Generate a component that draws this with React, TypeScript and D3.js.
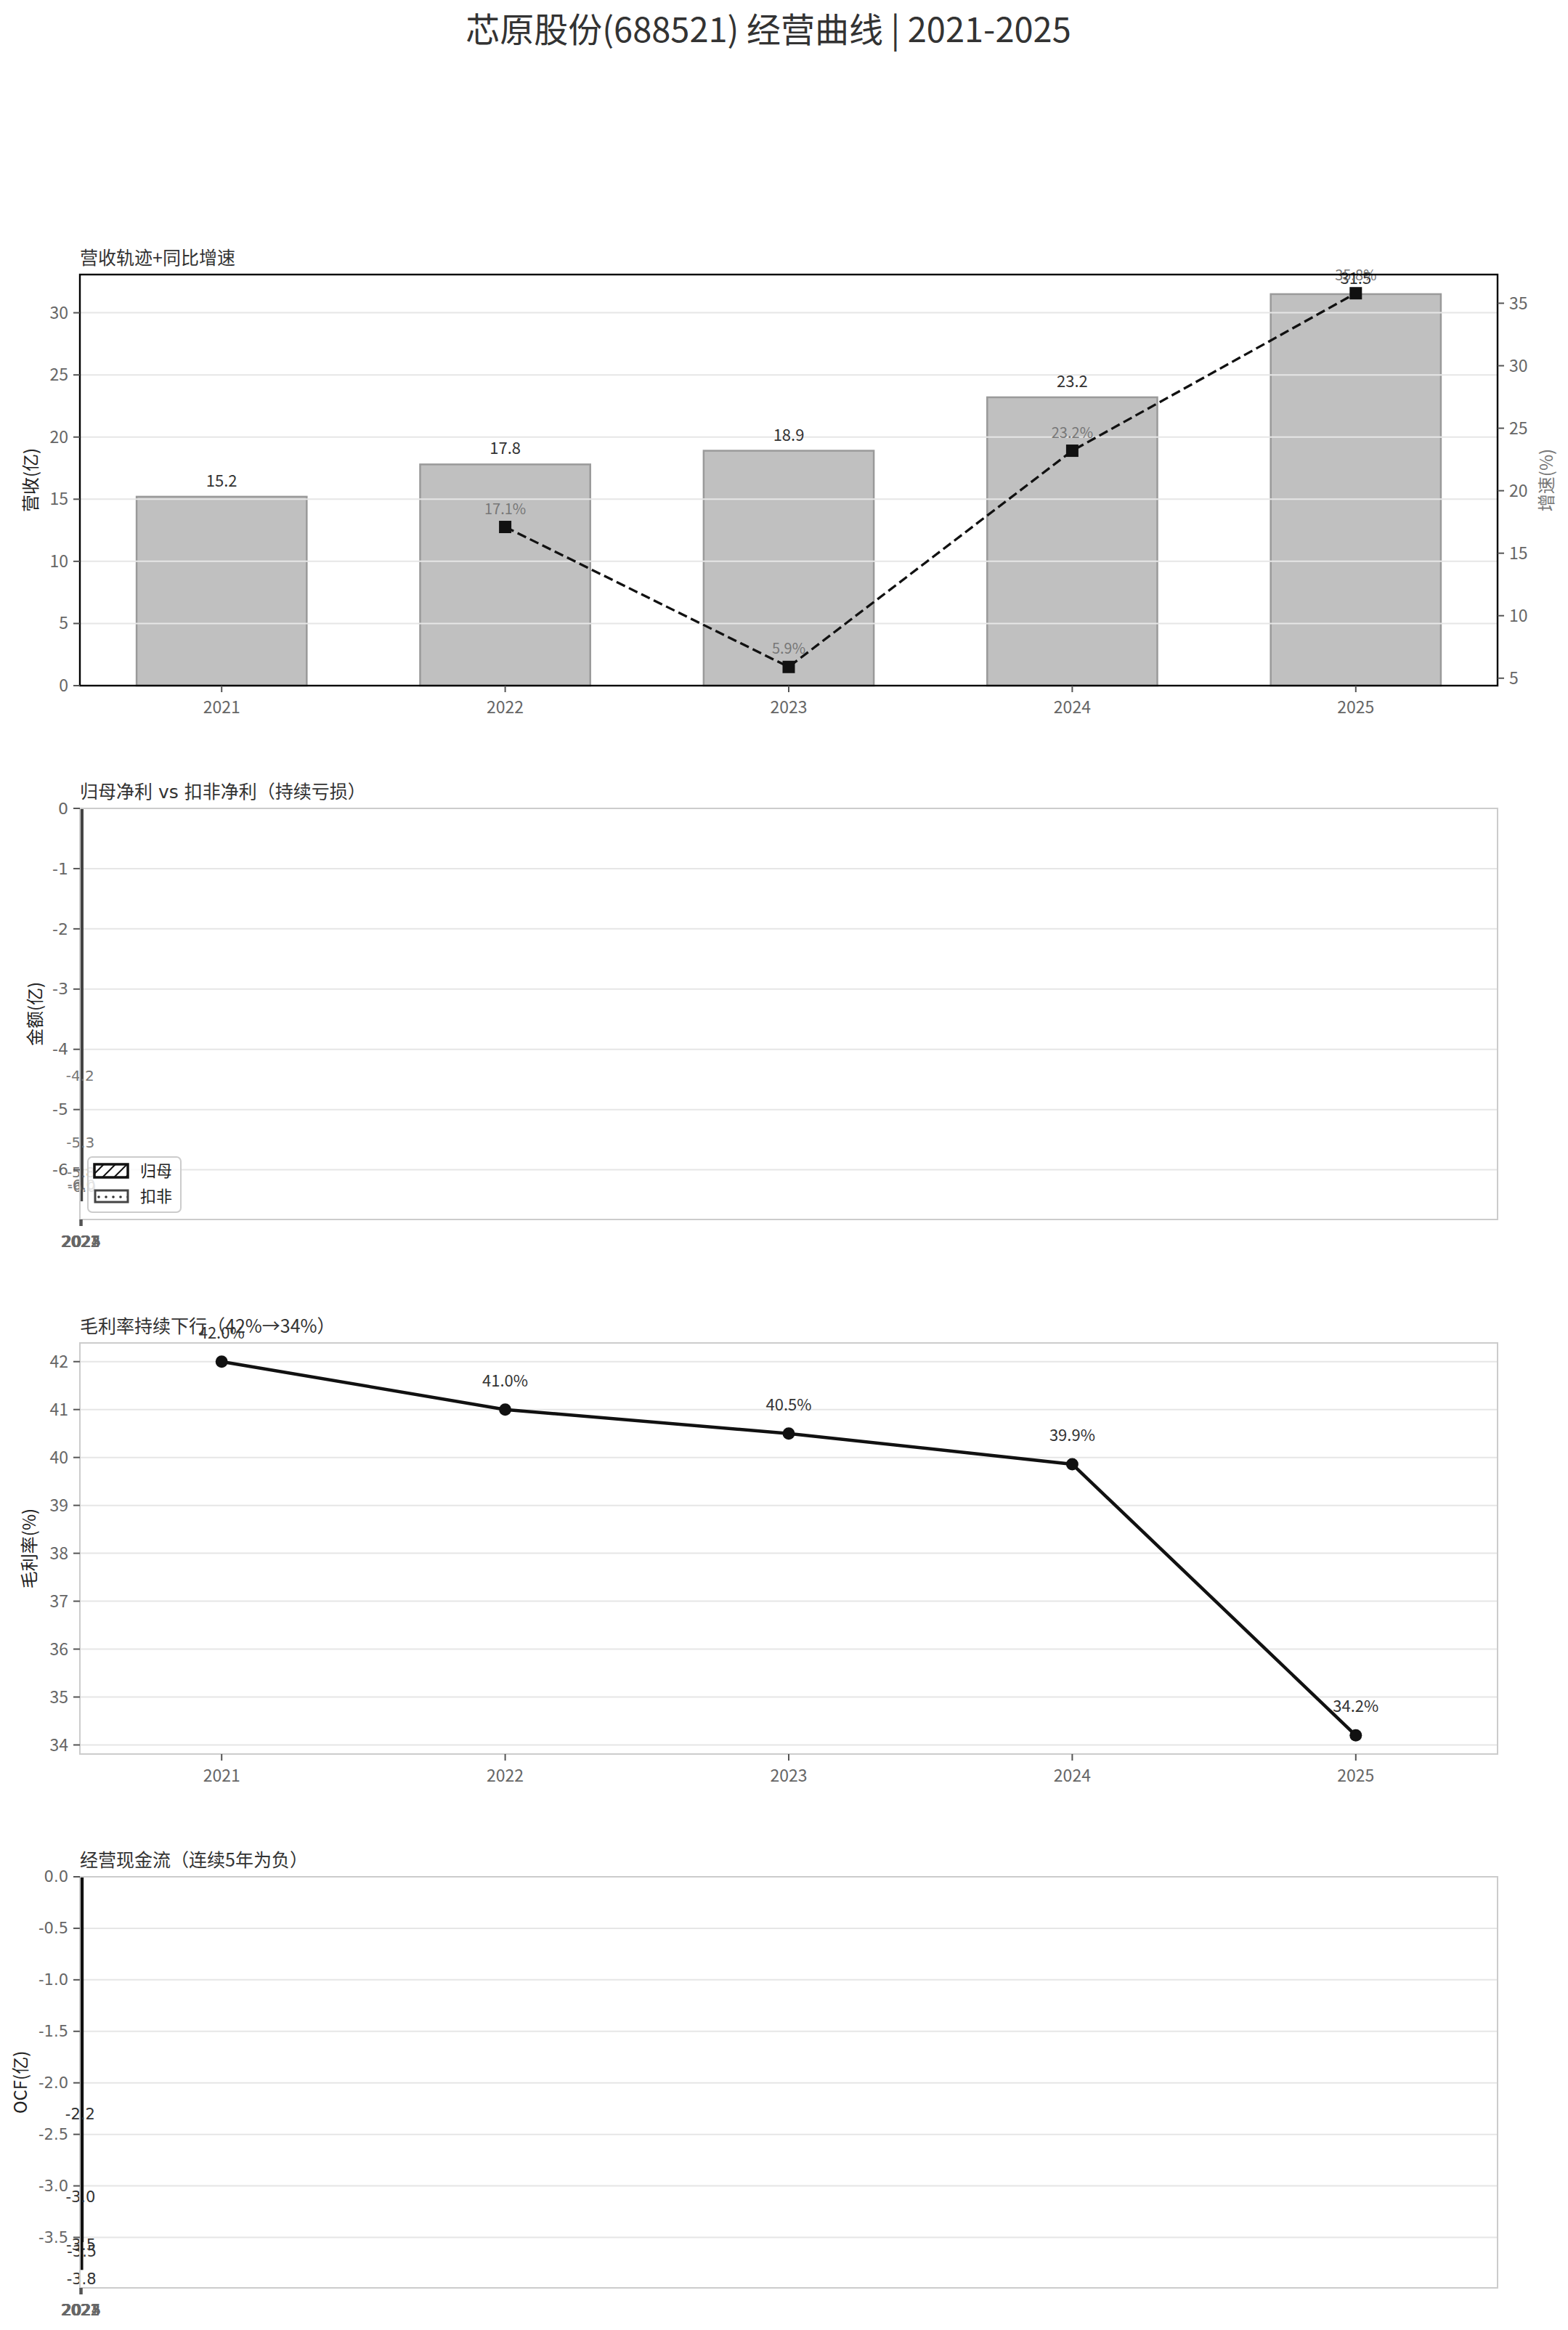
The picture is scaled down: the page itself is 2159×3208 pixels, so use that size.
import React from 'react';
import * as d3 from 'd3';

const YEARS = ['2021', '2022', '2023', '2024', '2025'];
const REVENUE = [15.2, 17.8, 18.9, 23.2, 31.5];
const GROWTH_YEARS = ['2022', '2023', '2024', '2025'];
const GROWTH = [17.1, 5.9, 23.2, 35.8];
const NET_PROFIT = [-4.2, -5.3, -5.8, -6.0, -6.04];
const DEDUCTED = [-4.6, -5.7, -6.2, -6.5, -6.3];
const GROSS_MARGIN = [42.0, 41.0, 40.5, 39.86, 34.2];
const OCF = [-2.2, -3.0, -3.47, -3.8, -3.53];

const REV_TICKS = [0, 5, 10, 15, 20, 25, 30];
const GROWTH_TICKS = [5, 10, 15, 20, 25, 30, 35];
const PROFIT_TICKS = [0, -1, -2, -3, -4, -5, -6];
const GM_TICKS = [34, 35, 36, 37, 38, 39, 40, 41, 42];
const OCF_TICKS = [0, -0.5, -1, -1.5, -2, -2.5, -3, -3.5];

const W = 2159;
const H = 3208;
const L = 110;
const R = 2062;
const PH = 566;
const TOPS = [378, 1113, 1849, 2584];

const CJK = '"Noto Sans CJK SC", "Noto Sans", sans-serif';
const DV = '"DejaVu Sans", "Noto Sans CJK SC", sans-serif';
const TICK_C = '#666';
const GRID_C = '#e6e6e6';

function YTicks({ scale, ticks, fmt, font, size, side = 'left', x }: any) {
  return (
    <g>
      {ticks.map((t: number) => (
        <g key={t}>
          <line
            x1={side === 'left' ? x - 9 : x}
            x2={side === 'left' ? x : x + 9}
            y1={scale(t)}
            y2={scale(t)}
            stroke="#555"
            strokeWidth={2}
          />
          <text
            x={side === 'left' ? x - 16 : x + 16}
            y={scale(t)}
            dy="0.35em"
            textAnchor={side === 'left' ? 'end' : 'start'}
            fontFamily={font}
            fontSize={size}
            fill={TICK_C}
          >
            {fmt(t)}
          </text>
        </g>
      ))}
    </g>
  );
}

function XTicks({ scale, positions, labels, bottom, font, size }: any) {
  return (
    <g>
      {positions.map((p: number, i: number) => (
        <g key={i}>
          <line x1={scale(p)} x2={scale(p)} y1={bottom} y2={bottom + 9} stroke="#555" strokeWidth={2} />
          <text
            x={scale(p)}
            y={bottom + 38}
            textAnchor="middle"
            fontFamily={font}
            fontSize={size}
            fill={TICK_C}
          >
            {labels[i]}
          </text>
        </g>
      ))}
    </g>
  );
}

function Grid({ scale, ticks }: any) {
  return (
    <g>
      {ticks.map((t: number) => (
        <line key={t} x1={L} x2={R} y1={scale(t)} y2={scale(t)} stroke={GRID_C} strokeWidth={2} />
      ))}
    </g>
  );
}

function Title({ top, text, font = CJK }: any) {
  return (
    <text x={L} y={top - 14} fontFamily={font} fontSize={25} fill="#333">
      {text}
    </text>
  );
}

function YLabel({ x, top, text, color = '#222', font = CJK }: any) {
  const cy = top + PH / 2;
  return (
    <text
      transform={`translate(${x},${cy}) rotate(-90)`}
      textAnchor="middle"
      dy="0.35em"
      fontFamily={font}
      fontSize={24}
      fill={color}
    >
      {text}
    </text>
  );
}

function RevenuePanel() {
  const top = TOPS[0];
  const bottom = top + PH;
  const idx = YEARS.map((_, i) => i);
  const x = d3.scaleLinear().domain([-0.5, 4.5]).range([L, R]);
  const y = d3.scaleLinear().domain([0, (d3.max(REVENUE) as number) * 1.05]).range([bottom, top]);
  const [gmin, gmax] = d3.extent(GROWTH) as [number, number];
  const gpad = (gmax - gmin) * 0.05;
  const yr = d3.scaleLinear().domain([gmin - gpad, gmax + gpad]).range([bottom, top]);
  const bw = 0.6;
  const gpts = GROWTH.map((v, i) => [x(YEARS.indexOf(GROWTH_YEARS[i])), yr(v)] as [number, number]);
  const line = d3.line();
  return (
    <g>
      <Title top={top} text="营收轨迹+同比增速" />
      {REVENUE.map((v, i) => (
        <rect
          key={i}
          x={x(i - bw / 2)}
          y={y(v)}
          width={x(bw) - x(0)}
          height={y(0) - y(v)}
          fill="#c0c0c0"
          stroke="#9a9a9a"
          strokeWidth={2.5}
        />
      ))}
      <Grid scale={y} ticks={REV_TICKS} />
      {REVENUE.map((v, i) => (
        <text
          key={i}
          x={x(i)}
          y={y(v) - 14}
          textAnchor="middle"
          fontFamily={CJK}
          fontSize={22}
          fill="#333"
        >
          {v.toFixed(1)}
        </text>
      ))}
      <path d={line(gpts) as string} fill="none" stroke="#111" strokeWidth={3.3} strokeDasharray="13 6" />
      {gpts.map((p, i) => (
        <rect key={i} x={p[0] - 8.5} y={p[1] - 8.5} width={17} height={17} fill="#111" />
      ))}
      {GROWTH.map((v, i) => (
        <text
          key={i}
          x={gpts[i][0]}
          y={gpts[i][1] - 18}
          textAnchor="middle"
          fontFamily={CJK}
          fontSize={20}
          fill="#777"
        >
          {v.toFixed(1)}%
        </text>
      ))}
      <rect x={L} y={top} width={R - L} height={PH} fill="none" stroke="#000" strokeWidth={2.4} />
      <YTicks scale={y} ticks={REV_TICKS} fmt={(t: number) => String(t)} font={CJK} size={23} x={L} />
      <YTicks scale={yr} ticks={GROWTH_TICKS} fmt={(t: number) => String(t)} font={CJK} size={23} x={R} side="right" />
      <XTicks scale={x} positions={idx} labels={YEARS} bottom={bottom} font={CJK} size={23} />
      <YLabel x={43} top={top} text="营收(亿)" />
      <YLabel x={2130} top={top} text="增速(%)" color="#777" />
    </g>
  );
}

function ProfitPanel() {
  const top = TOPS[1];
  const bottom = top + PH;
  const idx = YEARS.map((_, i) => i);
  const x = d3.scaleLinear().domain([-0.5, 3200]).range([L, R]);
  const lo = Math.min(d3.min(NET_PROFIT) as number, d3.min(DEDUCTED) as number) * 1.05;
  const y = d3.scaleLinear().domain([lo, 0]).range([bottom, top]);
  const bw = 0.35;
  return (
    <g>
      <defs>
        <clipPath id="clip2">
          <rect x={L} y={top} width={R - L} height={PH} />
        </clipPath>
        <pattern id="hatch" patternUnits="userSpaceOnUse" width={16} height={16}>
          <path d="M-4,4 L4,-4 M0,16 L16,0 M12,20 L20,12" stroke="#111" strokeWidth={2} />
        </pattern>
        <pattern id="dots" patternUnits="userSpaceOnUse" width={10} height={10}>
          <circle cx={5} cy={5} r={1.8} fill="#333" />
        </pattern>
      </defs>
      <Title top={top} text="归母净利 vs 扣非净利（持续亏损）" font={DV} />
      <Grid scale={y} ticks={PROFIT_TICKS} />
      <g clipPath="url(#clip2)">
        {NET_PROFIT.map((v, i) => (
          <rect
            key={'n' + i}
            x={x(i - bw)}
            y={y(0)}
            width={x(bw) - x(0)}
            height={y(v) - y(0)}
            fill="url(#hatch)"
            stroke="#333"
            strokeWidth={3.8}
          />
        ))}
        {DEDUCTED.map((v, i) => (
          <rect
            key={'d' + i}
            x={x(i)}
            y={y(0)}
            width={x(bw) - x(0)}
            height={y(v) - y(0)}
            fill="url(#dots)"
            stroke="#444"
            strokeWidth={3.8}
          />
        ))}
      </g>
      {NET_PROFIT.map((v, i) => (
        <text
          key={i}
          x={x(i - bw / 2)}
          y={y(v) + 27}
          textAnchor="middle"
          fontFamily={DV}
          fontSize={20}
          fill="#777"
        >
          {v.toFixed(1)}
        </text>
      ))}
      <rect x={L} y={top} width={R - L} height={PH} fill="none" stroke="#ccc" strokeWidth={2} />
      <YTicks scale={y} ticks={PROFIT_TICKS} fmt={(t: number) => String(t)} font={DV} size={22} x={L} />
      <XTicks scale={x} positions={idx} labels={YEARS} bottom={bottom} font={DV} size={21} />
      <YLabel x={49} top={top} text="金额(亿)" />
      <g transform={`translate(${L + 11},${bottom - 86})`}>
        <rect width={128} height={76} rx={6} fill="#fff" fillOpacity={0.8} stroke="#ccc" strokeWidth={2} />
        <rect x={9} y={10} width={46} height={18} fill="url(#hatch)" stroke="#111" strokeWidth={3.5} />
        <text x={72} y={19} dy="0.35em" fontFamily={CJK} fontSize={22} fill="#222">归母</text>
        <rect x={10} y={46} width={45} height={16} fill="url(#dots)" stroke="#444" strokeWidth={3} />
        <text x={72} y={54} dy="0.35em" fontFamily={CJK} fontSize={22} fill="#222">扣非</text>
      </g>
    </g>
  );
}

function MarginPanel() {
  const top = TOPS[2];
  const bottom = top + PH;
  const idx = YEARS.map((_, i) => i);
  const x = d3.scaleLinear().domain([-0.5, 4.5]).range([L, R]);
  const [mn, mx] = d3.extent(GROSS_MARGIN) as [number, number];
  const pad = (mx - mn) * 0.05;
  const y = d3.scaleLinear().domain([mn - pad, mx + pad]).range([bottom, top]);
  const pts = GROSS_MARGIN.map((v, i) => [x(i), y(v)] as [number, number]);
  const line = d3.line();
  return (
    <g>
      <Title top={top} text="毛利率持续下行（42%→34%）" />
      <Grid scale={y} ticks={GM_TICKS} />
      <path d={line(pts) as string} fill="none" stroke="#111" strokeWidth={4.5} />
      {pts.map((p, i) => (
        <circle key={i} cx={p[0]} cy={p[1]} r={8.5} fill="#111" />
      ))}
      {GROSS_MARGIN.map((v, i) => (
        <text
          key={i}
          x={pts[i][0]}
          y={pts[i][1] - 32}
          textAnchor="middle"
          fontFamily={CJK}
          fontSize={22}
          fill="#333"
        >
          {v.toFixed(1)}%
        </text>
      ))}
      <rect x={L} y={top} width={R - L} height={PH} fill="none" stroke="#ccc" strokeWidth={2} />
      <YTicks scale={y} ticks={GM_TICKS} fmt={(t: number) => String(t)} font={CJK} size={23} x={L} />
      <XTicks scale={x} positions={idx} labels={YEARS} bottom={bottom} font={CJK} size={23} />
      <YLabel x={41} top={top} text="毛利率(%)" />
    </g>
  );
}

function OcfPanel() {
  const top = TOPS[3];
  const bottom = top + PH;
  const idx = YEARS.map((_, i) => i);
  const x = d3.scaleLinear().domain([-0.5, 3200]).range([L, R]);
  const y = d3.scaleLinear().domain([(d3.min(OCF) as number) * 1.05, 0]).range([bottom, top]);
  const bw = 0.6;
  return (
    <g>
      <defs>
        <clipPath id="clip4">
          <rect x={L} y={top} width={R - L} height={PH} />
        </clipPath>
      </defs>
      <Title top={top} text="经营现金流（连续5年为负）" />
      <Grid scale={y} ticks={OCF_TICKS} />
      <g clipPath="url(#clip4)">
        {OCF.map((v, i) => (
          <rect
            key={i}
            x={x(i - bw / 2)}
            y={y(0)}
            width={x(bw) - x(0)}
            height={y(v) - y(0)}
            fill="#111"
            stroke="#111"
            strokeWidth={4.5}
          />
        ))}
      </g>
      {OCF.map((v, i) => (
        <text
          key={i}
          x={x(i)}
          y={y(v) + 22}
          textAnchor="middle"
          fontFamily={DV}
          fontSize={21}
          fill="#333"
        >
          {v.toFixed(1)}
        </text>
      ))}
      <rect x={L} y={top} width={R - L} height={PH} fill="none" stroke="#ccc" strokeWidth={2} />
      <YTicks scale={y} ticks={OCF_TICKS} fmt={(t: number) => (t === 0 ? '0.0' : t.toFixed(1))} font={DV} size={21} x={L} />
      <XTicks scale={x} positions={idx} labels={YEARS} bottom={bottom} font={DV} size={21} />
      <YLabel x={29} top={top} text="OCF(亿)" />
    </g>
  );
}

export default function App() {
  return (
    <svg
      width={W}
      height={H}
      viewBox={`0 0 ${W} ${H}`}
      style={{ position: 'absolute', left: 0, top: 0, display: 'block', background: '#fff' }}
    >
      <rect width={W} height={H} fill="#fff" />
      <text x={1058} y={58} textAnchor="middle" fontFamily={CJK} fontSize={47} fill="#333">
        芯原股份(688521) 经营曲线 | 2021-2025
      </text>
      <RevenuePanel />
      <ProfitPanel />
      <MarginPanel />
      <OcfPanel />
    </svg>
  );
}
